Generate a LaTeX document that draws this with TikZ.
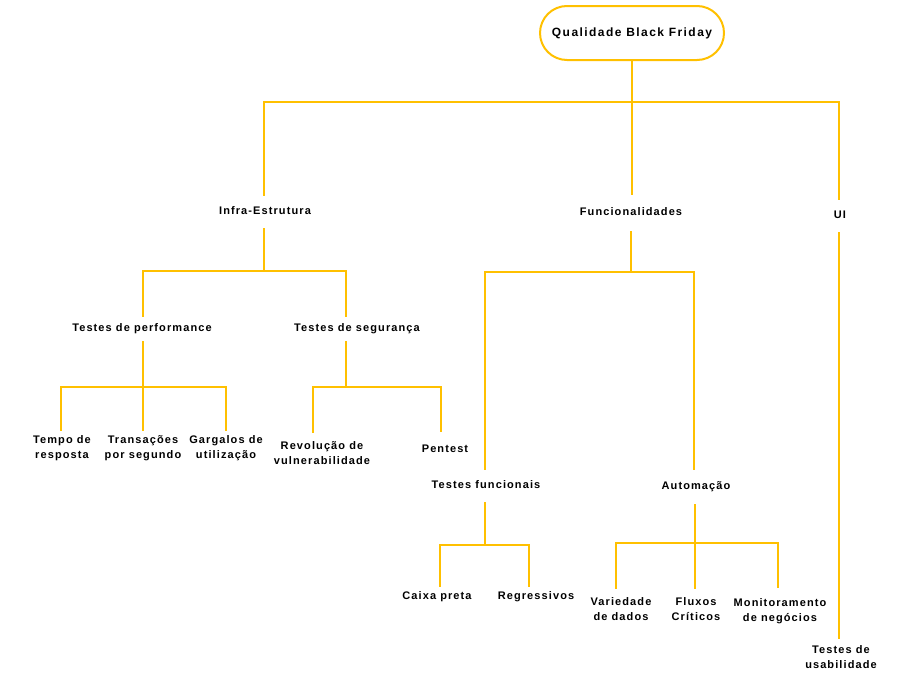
\documentclass[tikz,border=0pt]{standalone}
\usepackage{fontspec}
\setmainfont{Liberation Sans}
\newfontfamily\lblfont[LetterSpace=10]{Liberation Sans}
\newfontfamily\rootfont[LetterSpace=12]{Liberation Sans}
\definecolor{gold}{HTML}{FFC000}
\begin{document}
\begin{tikzpicture}[x=1pt,y=-1pt,
  lbl/.style={font=\lblfont\bfseries\fontsize{11}{15.5}\selectfont, align=center, inner xsep=2pt, inner ysep=4pt},
  one/.style={text height=8pt, text depth=2.5pt},
  conn/.style={draw=gold, line width=1.3pt},
  rootbox/.style={draw=gold, line width=2pt, rounded corners=27pt, minimum width=184pt, minimum height=54pt, font=\rootfont\bfseries\fontsize{12}{14}\selectfont}]
\useasboundingbox (0,0) rectangle (918,688);
% nodes
\node[rootbox] (root) at (632,33) {Qualidade Black Friday};
\node[lbl, one, inner ysep=11pt] (infra) at (265,212) {Infra-Estrutura};
\node[lbl, one, inner ysep=13pt] (func) at (631,213) {Funcionalidades};
\node[lbl, one, inner ysep=11pt] (ui) at (840,216) {UI};
\node[lbl, inner ysep=6pt] (usab) at (841,657) {Testes de\\usabilidade};
\node[lbl, one, inner ysep=7pt] (perf) at (142,329) {Testes de performance};
\node[lbl, one, inner ysep=7pt] (seg) at (357,329) {Testes de segurança};
\node[lbl, inner ysep=4pt] (tempo) at (62,448) {Tempo de\\resposta};
\node[lbl, inner ysep=4pt] (trans) at (143,448) {Transações\\por segundo};
\node[lbl, inner ysep=4pt] (garg) at (226,448) {Gargalos de\\utilização};
\node[lbl, inner ysep=8pt] (revol) at (322,453) {Revolução de\\vulnerabilidade};
\node[lbl, one, inner ysep=13pt] (pent) at (445,450) {Pentest};
\node[lbl, one, inner ysep=11pt] (tfunc) at (486,486) {Testes funcionais};
\node[lbl, one, inner ysep=12pt] (auto) at (696,487) {Automação};
\node[lbl, one, inner ysep=5pt] (caixa) at (437,597) {Caixa preta};
\node[lbl, one, inner ysep=5pt] (regr) at (536,597) {Regressivos};
\node[lbl, inner ysep=8pt] (vari) at (621,609) {Variedade\\de dados};
\node[lbl, inner ysep=8pt] (flux) at (696,609) {Fluxos\\Críticos};
\node[lbl, inner ysep=10pt] (moni) at (780,611) {Monitoramento\\de negócios};
% junctions
\coordinate (jroot) at (632,102);
\coordinate (jinfra) at (264,271);
\coordinate (jfunc) at (631,272);
\coordinate (jperf) at (143,387);
\coordinate (jseg) at (346,387);
\coordinate (jtf) at (485,545);
\coordinate (jauto) at (695,543);
% connectors
\draw[conn] (root) -- (jroot);
\draw[conn] (jroot) -| ([xshift=-1pt]infra.north);
\draw[conn] (jroot) -- (func.north -| jroot);
\draw[conn] (jroot) -| ([xshift=-1pt]ui.north);
\draw[conn] ([xshift=-1pt]ui.south) -- ([xshift=-2pt]usab.north);
\draw[conn] ([xshift=-1pt]infra.south) -- (jinfra);
\draw[conn] (jinfra) -| ([xshift=1pt]perf.north);
\draw[conn] (jinfra) -| ([xshift=-11pt]seg.north);
\draw[conn] ([xshift=1pt]perf.south) -- (jperf);
\draw[conn] (jperf) -| ([xshift=-1pt]tempo.north);
\draw[conn] (jperf) -- (trans);
\draw[conn] (jperf) -| (garg.north);
\draw[conn] ([xshift=-11pt]seg.south) -- (jseg);
\draw[conn] (jseg) -| ([xshift=-9pt]revol.north);
\draw[conn] (jseg) -| ([xshift=-4pt]pent.north);
\draw[conn] (func) -- (jfunc);
\draw[conn] (jfunc) -| ([xshift=-1pt]tfunc.north);
\draw[conn] (jfunc) -| ([xshift=-2pt]auto.north);
\draw[conn] ([xshift=-1pt]tfunc.south) -- (jtf);
\draw[conn] (jtf) -| ([xshift=3pt]caixa.north);
\draw[conn] (jtf) -| ([xshift=-7pt]regr.north);
\draw[conn] ([xshift=-1pt]auto.south) -- (jauto);
\draw[conn] (jauto) -| ([xshift=-5pt]vari.north);
\draw[conn] (jauto) -- ([xshift=-1pt]flux.north);
\draw[conn] (jauto) -| ([xshift=-2pt]moni.north);
\end{tikzpicture}
\end{document}
